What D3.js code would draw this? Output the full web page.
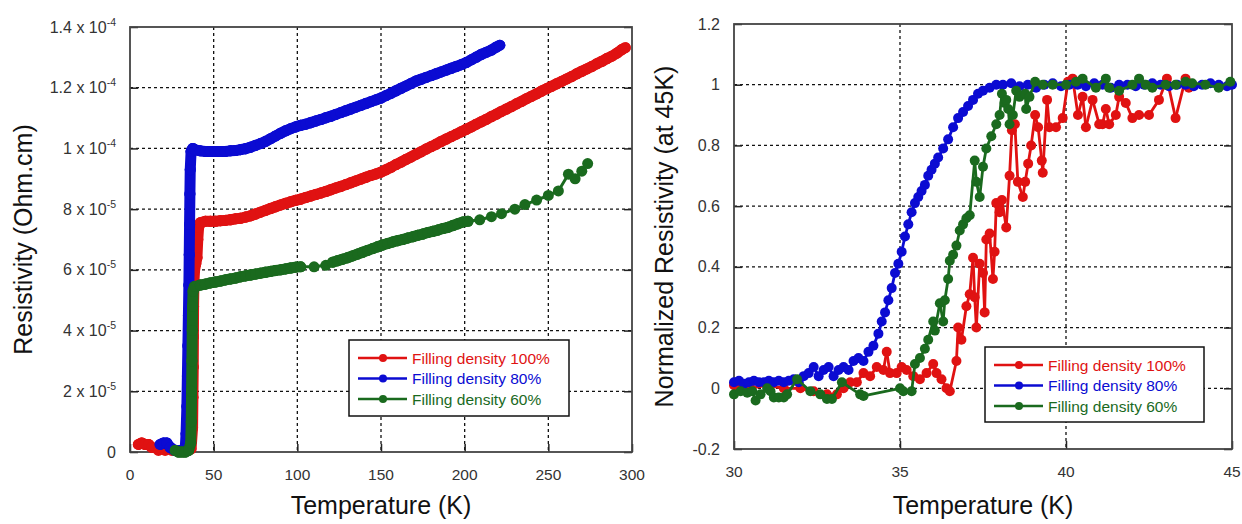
<!DOCTYPE html>
<html>
<head>
<meta charset="utf-8">
<script src="https://cdn.jsdelivr.net/npm/d3@7"></script>
<style>
	body { margin: 0; background: #fff; }
	svg text { font-family: Arial, "Liberation Sans", sans-serif; }
</style>
</head>
<body>
<div id="graph"></div>
<script>
// ---- data: left panel, resistivity in units of 1e-5 Ohm.cm vs T (K)
var rho100 = [[5,0.25],[7,0.3],[9,0.25],[11,0.25],[13,0.15],[17,0.05],[21,0.05],[25,0.05],[29,0.05],[33,0.05],[36.5,0.1],
	[37.4,0.8],[37.6,1.8],[37.8,2.8],[37.9,3.8],[38,4.8],[38.2,5.6],[38.6,6.0],[39.3,6.2],[40,6.4],[40.5,7.0],[41,7.4],[42,7.55],
	[45,7.6],[48,7.6],[51,7.6],[54,7.62],[57,7.63],[60,7.65],[63,7.68],[66,7.7],[69,7.74],[72,7.78],[75,7.84],[78,7.9],
	[81,7.96],[84,8.02],[87,8.08],[90,8.14],[93,8.19],[96,8.24],[99,8.29],[102,8.33],[105,8.38],[108,8.43],[111,8.48],
	[114,8.53],[117,8.58],[120,8.64],[123,8.7],[126,8.75],[129,8.81],[132,8.87],[135,8.93],[138,8.99],[141,9.05],[144,9.11],
	[147,9.16],[150,9.22],[153,9.3],[156,9.38],[159,9.47],[162,9.55],[165,9.64],[168,9.72],[171,9.81],[174,9.89],[177,9.98],
	[180,10.06],[183,10.14],[186,10.23],[189,10.31],[192,10.39],[195,10.47],[198,10.55],[201,10.63],[204,10.71],[207,10.8],
	[210,10.88],[213,10.96],[216,11.05],[219,11.13],[222,11.22],[225,11.3],[228,11.38],[231,11.47],[234,11.55],[237,11.64],
	[240,11.72],[243,11.8],[246,11.89],[249,11.97],[252,12.05],[255,12.13],[258,12.21],[261,12.29],[264,12.37],[267,12.46],
	[270,12.54],[273,12.62],[276,12.7],[279,12.79],[282,12.87],[285,12.96],[288,13.04],[291,13.14],[294,13.26],[296,13.32]];

var rho80 = [[18,0.25],[20,0.3],[22,0.3],[24,0.15],[27,0.05],[30,0.05],[33,0.1],[33.5,0.6],[34,1.5],[34.3,2.5],[34.6,3.5],
	[34.9,4.5],[35.2,5.5],[35.4,6.5],[35.6,7.5],[35.8,8.5],[36,9.3],[36.5,9.9],[37.5,10.0],[39,9.95],[42,9.92],[45,9.9],
	[48,9.9],[51,9.9],[54,9.9],[57,9.9],[60,9.92],[63,9.93],[66,9.96],[69,9.99],[72,10.04],[75,10.1],[78,10.16],[81,10.23],
	[84,10.32],[87,10.41],[90,10.5],[93,10.58],[96,10.65],[99,10.71],[102,10.76],[105,10.8],[108,10.85],[111,10.9],
	[114,10.95],[117,11.01],[120,11.06],[123,11.12],[126,11.18],[129,11.24],[132,11.3],[135,11.36],[138,11.42],[141,11.48],
	[144,11.54],[147,11.6],[150,11.66],[153,11.74],[156,11.82],[159,11.9],[162,11.98],[165,12.06],[168,12.14],[171,12.22],
	[174,12.28],[177,12.34],[180,12.4],[183,12.46],[186,12.52],[189,12.58],[192,12.64],[195,12.7],[198,12.76],[201,12.83],
	[204,12.92],[207,13.01],[210,13.1],[213,13.17],[216,13.24],[219,13.34],[221,13.4]];

var rho60 = [[27,0.05],[29,0.0],[31,0.0],[33,0.0],[35,0.05],[36.3,0.3],[36.6,1.0],[36.8,2.0],[37,3.0],[37.2,4.0],[37.4,4.8],
	[37.7,5.3],[38.5,5.45],[39,5.45],[42,5.5],[45,5.53],[48,5.57],[51,5.6],[54,5.63],[57,5.67],[60,5.7],[63,5.73],[66,5.77],
	[69,5.8],[72,5.83],[75,5.86],[78,5.89],[81,5.92],[84,5.95],[87,5.98],[90,6.0],[93,6.03],[96,6.06],[99,6.09],[102,6.1],
	[110,6.1],[117,6.15],[121,6.25],[124,6.3],[127,6.35],[130,6.4],[133,6.46],[136,6.52],[139,6.58],[142,6.64],[145,6.7],
	[148,6.76],[151,6.82],[154,6.87],[157,6.92],[160,6.96],[163,7.0],[166,7.05],[169,7.09],[172,7.14],[175,7.18],[178,7.23],
	[181,7.27],[184,7.31],[187,7.36],[190,7.4],[193,7.46],[196,7.52],[199,7.58],[202,7.6],[209,7.65],[216,7.75],[222,7.85],
	[230,8.0],[236,8.15],[243,8.3],[250,8.45],[256,8.6],[262,9.15],[266,9.0],[270,9.25],[273.5,9.5]];

// ---- data: right panel, normalized resistivity vs T (K)
var norm100 = [[30.0,0.01],[30.5,0.0],[31.0,0.01],[31.5,0.0],[32.0,0.0],[32.4,-0.01],[32.8,-0.02],[33.1,-0.02],[33.3,0.0],
	[33.5,0.02],[33.7,0.02],[33.9,0.05],[34.1,0.04],[34.3,0.07],[34.5,0.06],[34.6,0.12],[34.7,0.05],[34.9,0.05],[35.05,0.07],
	[35.2,0.06],[35.4,0.04],[35.6,0.03],[35.8,0.05],[36.0,0.08],[36.1,0.05],[36.25,0.03],[36.4,0.0],[36.5,-0.01],[36.7,0.09],
	[36.75,0.2],[36.85,0.16],[37.0,0.27],[37.1,0.31],[37.2,0.43],[37.25,0.3],[37.3,0.2],[37.4,0.41],[37.5,0.38],[37.55,0.25],
	[37.6,0.49],[37.7,0.51],[37.8,0.36],[37.85,0.45],[37.9,0.61],[38.0,0.58],[38.07,0.62],[38.2,0.53],[38.3,0.7],[38.37,0.85],
	[38.46,0.87],[38.55,0.68],[38.7,0.63],[38.77,0.68],[38.86,0.74],[38.95,0.8],[39.07,0.9],[39.16,0.86],[39.27,0.75],
	[39.3,0.71],[39.43,0.95],[39.5,0.86],[39.7,0.86],[39.9,0.89],[40.06,1.01],[40.2,1.02],[40.36,0.9],[40.5,0.96],[40.6,0.86],
	[40.8,0.95],[41.0,0.87],[41.1,0.87],[41.2,0.92],[41.3,0.87],[41.5,0.9],[41.6,0.96],[41.8,0.94],[42.0,0.89],[42.2,0.9],
	[42.5,0.9],[42.8,0.95],[43.04,1.02],[43.3,0.89],[43.6,1.02],[43.7,0.99]];

var norm80 = [[30.0,0.02],[30.15,0.025],[30.3,0.015],[30.45,0.02],[30.6,0.025],[30.75,0.02],[30.9,0.02],[31.05,0.025],
	[31.2,0.02],[31.35,0.025],[31.5,0.02],[31.65,0.025],[31.8,0.03],[31.95,0.02],[32.1,0.04],[32.25,0.05],[32.4,0.07],
	[32.55,0.04],[32.7,0.06],[32.85,0.07],[33.0,0.04],[33.15,0.06],[33.3,0.07],[33.45,0.06],[33.6,0.09],[33.75,0.1],
	[33.9,0.09],[34.05,0.12],[34.2,0.14],[34.35,0.18],[34.45,0.22],[34.55,0.25],[34.65,0.29],[34.75,0.33],[34.85,0.38],
	[34.95,0.41],[35.05,0.45],[35.15,0.5],[35.25,0.54],[35.35,0.58],[35.45,0.61],[35.55,0.63],[35.65,0.65],[35.75,0.67],
	[35.85,0.7],[35.95,0.72],[36.05,0.74],[36.15,0.76],[36.3,0.79],[36.45,0.82],[36.6,0.86],[36.75,0.89],[36.9,0.91],
	[37.05,0.93],[37.2,0.95],[37.35,0.97],[37.5,0.98],[37.7,0.99],[37.9,1.0],[38.1,1.0],[38.35,1.005],[38.6,0.995],
	[38.85,1.0],[39.1,0.99],[39.35,1.0],[39.6,1.005],[39.85,0.995],[40.1,1.0],[40.35,1.0],[40.6,0.995],[40.85,1.005],
	[41.1,1.0],[41.35,0.99],[41.6,1.0],[41.85,1.0],[42.1,0.995],[42.35,1.0],[42.6,1.005],[42.85,1.0],[43.1,0.995],
	[43.35,1.0],[43.6,1.0],[43.85,0.995],[44.1,1.0],[44.35,1.005],[44.6,1.0],[44.85,0.995],[45.0,1.0]];

var norm60 = [[30.0,-0.02],[30.2,-0.01],[30.4,-0.015],[30.55,-0.01],[30.65,-0.04],[30.8,-0.02],[31.0,0.0],[31.1,-0.01],
	[31.2,-0.03],[31.35,-0.03],[31.5,-0.03],[31.6,-0.02],[31.9,0.03],[32.3,-0.01],[32.6,-0.02],[32.8,-0.035],[32.95,-0.035],
	[33.25,0.02],[33.8,-0.02],[33.9,-0.025],[35.0,0.0],[35.1,-0.01],[35.35,-0.01],[35.45,0.08],[35.6,0.1],[35.75,0.13],
	[35.85,0.16],[36.0,0.22],[36.05,0.19],[36.2,0.28],[36.3,0.22],[36.35,0.29],[36.45,0.36],[36.5,0.42],[36.6,0.44],
	[36.7,0.47],[36.8,0.52],[36.9,0.54],[37.0,0.56],[37.1,0.57],[37.25,0.75],[37.3,0.68],[37.4,0.63],[37.5,0.73],[37.6,0.79],
	[37.75,0.83],[37.9,0.87],[38.0,0.9],[38.07,0.97],[38.15,0.94],[38.2,0.95],[38.26,0.92],[38.3,0.87],[38.4,0.9],[38.5,0.98],
	[38.6,0.96],[38.77,0.97],[38.8,0.92],[38.9,0.96],[39.07,1.01],[39.3,1.0],[39.6,1.0],[40.0,1.0],[40.3,1.01],[40.5,1.02],
	[40.9,0.99],[41.2,1.02],[41.3,0.99],[41.6,0.98],[42.0,1.0],[42.2,1.02],[42.4,1.0],[42.6,0.99],[43.0,1.0],[43.3,1.0],
	[43.6,1.01],[43.8,1.005],[44.2,1.0],[44.6,0.99],[44.95,1.01]];

var seriesNames = ["Filling density 100%", "Filling density 80%", "Filling density 60%"];
var seriesColors = ["#e01212", "#0b0bd2", "#1a6a1e"];

var leftXTicks = [0, 50, 100, 150, 200, 250, 300];
var leftYTicks = [0, 2, 4, 6, 8, 10, 12, 14];
var leftYLabels = [["0", ""], ["2 x 10", "-5"], ["4 x 10", "-5"], ["6 x 10", "-5"], ["8 x 10", "-5"],
	["1 x 10", "-4"], ["1.2 x 10", "-4"], ["1.4 x 10", "-4"]];
var rightXTicks = [30, 35, 40, 45];
var rightYTicks = [-0.2, 0, 0.2, 0.4, 0.6, 0.8, 1, 1.2];

var svg = d3.select("div#graph").append("svg")
	.attr("width", 1242)
	.attr("height", 524);

function styleTicks(a){
	a.select(".domain").remove();
	a.selectAll("line").attr("stroke", "#222").attr("stroke-width", 1.5);
}

function drawFrame(box, x, y, xTicks, yTicks, yFormat, xTitle, yTitle, yTitleX){
	var g = svg.append("g");

	// dotted grid
	g.selectAll(".gx").data(xTicks.slice(1, -1)).enter().append("line")
		.attr("x1", function(d){ return x(d); }).attr("x2", function(d){ return x(d); })
		.attr("y1", box.top).attr("y2", box.bottom)
		.attr("stroke", "#111").attr("stroke-width", 1.3).attr("stroke-dasharray", "3,3");
	g.selectAll(".gy").data(yTicks.slice(1, -1)).enter().append("line")
		.attr("y1", function(d){ return y(d); }).attr("y2", function(d){ return y(d); })
		.attr("x1", box.left).attr("x2", box.right)
		.attr("stroke", "#111").attr("stroke-width", 1.3).attr("stroke-dasharray", "3,3");

	// inward ticks
	g.append("g").attr("transform", "translate(0," + box.bottom + ")")
		.call(d3.axisTop(x).tickValues(xTicks).tickSize(8).tickFormat(""))
		.call(styleTicks);
	g.append("g").attr("transform", "translate(" + box.left + ",0)")
		.call(d3.axisRight(y).tickValues(yTicks).tickSize(8).tickFormat(""))
		.call(styleTicks);
	g.append("g").attr("transform", "translate(" + box.right + ",0)")
		.call(d3.axisLeft(y).tickValues(yTicks).tickSize(8).tickFormat(""))
		.call(styleTicks);

	g.append("rect")
		.attr("x", box.left).attr("y", box.top)
		.attr("width", box.right - box.left).attr("height", box.bottom - box.top)
		.attr("fill", "none").attr("stroke", "#444").attr("stroke-width", 1.8);

	// tick labels
	g.selectAll(".lx").data(xTicks).enter().append("text")
		.attr("x", function(d){ return x(d); })
		.attr("y", box.bottom + 28)
		.attr("text-anchor", "middle")
		.attr("font-size", 15.5).attr("fill", "#333")
		.text(function(d){ return d; });

	var ly = g.selectAll(".ly").data(yTicks).enter().append("text")
		.attr("x", box.left - 14)
		.attr("y", function(d){ return y(d) + 5.5; })
		.attr("text-anchor", "end")
		.attr("font-size", 16).attr("fill", "#333");
	yFormat(ly);

	g.append("text")
		.attr("x", (box.left + box.right) / 2)
		.attr("y", 514)
		.attr("text-anchor", "middle")
		.attr("font-size", 25).attr("fill", "#111")
		.text(xTitle);
	g.append("text")
		.attr("transform", "translate(" + yTitleX + "," + ((box.top + box.bottom) / 2) + ") rotate(-90)")
		.attr("text-anchor", "middle")
		.attr("font-size", 25).attr("fill", "#111")
		.text(yTitle);
}

// densely sampled stretches (gap <= bandGap) are drawn as a solid band of markers
function drawSeries(data, x, y, color, r, lw, bandGap){
	var g = svg.append("g");
	var segs = d3.pairs(data);
	g.selectAll("line").data(segs).enter().append("line")
		.attr("x1", function(d){ return x(d[0][0]); })
		.attr("y1", function(d){ return y(d[0][1]); })
		.attr("x2", function(d){ return x(d[1][0]); })
		.attr("y2", function(d){ return y(d[1][1]); })
		.attr("stroke", color)
		.attr("stroke-linecap", "round")
		.attr("stroke-width", function(d){ return (d[1][0] - d[0][0] <= bandGap) ? 2 * r : lw; });
	g.selectAll("circle").data(data).enter().append("circle")
		.attr("cx", function(d){ return x(d[0]); })
		.attr("cy", function(d){ return y(d[1]); })
		.attr("r", r)
		.attr("fill", color);
}

function drawLegend(lx, ly, w, h){
	var g = svg.append("g").attr("transform", "translate(" + lx + "," + ly + ")");
	g.append("rect").attr("width", w).attr("height", h)
		.attr("fill", "#fff").attr("stroke", "#111").attr("stroke-width", 1.5);
	seriesNames.forEach(function(name, i){
		var yy = 18 + i * 20.5;
		g.append("line").attr("x1", 9).attr("x2", 58).attr("y1", yy).attr("y2", yy)
			.attr("stroke", seriesColors[i]).attr("stroke-width", 2.5);
		g.append("circle").attr("cx", 34).attr("cy", yy).attr("r", 4).attr("fill", seriesColors[i]);
		g.append("text").attr("x", 63).attr("y", yy + 5.5)
			.attr("font-size", 15.5).attr("fill", seriesColors[i])
			.text(name);
	});
}

// ---- left panel
var boxL = {left: 130, right: 632, top: 27, bottom: 452};
var xL = d3.scaleLinear().domain([0, 300]).range([boxL.left, boxL.right]);
var yL = d3.scaleLinear().domain([0, 14]).range([boxL.bottom, boxL.top]);

drawFrame(boxL, xL, yL, leftXTicks, leftYTicks, function(sel){
	sel.each(function(d, i){
		var t = d3.select(this);
		t.append("tspan").text(leftYLabels[i][0]);
		if (leftYLabels[i][1]) {
			t.append("tspan").attr("dy", -7).attr("font-size", 10.5).text(leftYLabels[i][1]);
		}
	});
}, "Temperature (K)", "Resistivity (Ohm.cm)", 32);

drawSeries(rho100, xL, yL, seriesColors[0], 5.5, 3, 3.2);
drawSeries(rho80, xL, yL, seriesColors[1], 5.5, 3, 3.2);
drawSeries(rho60, xL, yL, seriesColors[2], 5.5, 3, 3.2);
drawLegend(349, 340, 220, 76);

// ---- right panel
var boxR = {left: 734, right: 1232, top: 24, bottom: 449};
var xR = d3.scaleLinear().domain([30, 45]).range([boxR.left, boxR.right]);
var yR = d3.scaleLinear().domain([-0.2, 1.2]).range([boxR.bottom, boxR.top]);

drawFrame(boxR, xR, yR, rightXTicks, rightYTicks, function(sel){
	sel.text(function(d){ return d3.format("~g")(+d.toFixed(1)).replace("−", "-"); });
}, "Temperature (K)", "Normalized Resistivity (at 45K)", 673);

drawSeries(norm100, xR, yR, seriesColors[0], 5, 2.8, 0);
drawSeries(norm80, xR, yR, seriesColors[1], 5, 2.8, 0);
drawSeries(norm60, xR, yR, seriesColors[2], 5, 2.8, 0);
drawLegend(985, 347, 219, 75);
</script>
</body>
</html>
